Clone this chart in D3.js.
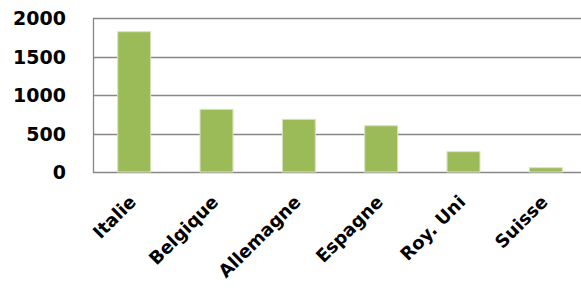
<!DOCTYPE html>
<html><head><meta charset="utf-8">
<script src="https://cdn.jsdelivr.net/npm/d3@7"></script>
<style>body{margin:0;background:#fff}svg{display:block}</style>
</head><body>
<svg id="c" width="581" height="290"></svg>
<script>
const categories = ["Italie","Belgique","Allemagne","Espagne","Roy. Uni","Suisse"];
const values = [1822, 814, 684, 601, 264, 56];
const yTicks = [0, 500, 1000, 1500, 2000];

const svg = d3.select("#c");
const mLeft = 93, mRight = 587, mTop = 18, mBottom = 172;
const font = "'DejaVu Sans', Verdana, sans-serif";

const x = d3.scaleBand().domain(categories).range([mLeft, mRight]).paddingInner(0.6).paddingOuter(0.3);
const y = d3.scaleLinear().domain([0, 2000]).range([mBottom, mTop]);

// gridlines
svg.append("g").selectAll("line").data(yTicks).join("line")
  .attr("x1", mLeft).attr("x2", mRight)
  .attr("y1", d => Math.round(y(d)) + 0.5).attr("y2", d => Math.round(y(d)) + 0.5)
  .attr("stroke", "#878787").attr("stroke-width", 1.3);
svg.append("line").attr("x1", mLeft + 0.5).attr("x2", mLeft + 0.5)
  .attr("y1", y(2000)).attr("y2", y(0) + 1)
  .attr("stroke", "#878787").attr("stroke-width", 1.3);

// bars
svg.append("g").selectAll("rect").data(values).join("rect")
  .attr("x", (d, i) => x(categories[i]))
  .attr("width", x.bandwidth())
  .attr("y", d => y(d))
  .attr("height", d => y(0) - y(d))
  .attr("fill", "#9BBB59")
  .attr("stroke", "#D7E4BD").attr("stroke-width", 1);

// y axis
const yAxis = d3.axisLeft(y).tickValues(yTicks).tickFormat(d3.format("d")).tickSize(0).tickPadding(0);
const ga = svg.append("g").attr("transform", `translate(66,0)`).call(yAxis);
ga.select(".domain").remove();
ga.selectAll("text").attr("font-family", font).attr("font-weight", "bold")
  .attr("font-size", 19).attr("fill", "#000").attr("dy", "0.36em");

// x axis labels
const xAxis = d3.axisBottom(x).tickSize(0).tickPadding(0);
const gx = svg.append("g").attr("transform", `translate(0,${mBottom})`).call(xAxis);
gx.select(".domain").remove();
gx.selectAll("text")
  .attr("font-family", font).attr("font-weight", "bold").attr("font-size", 18).attr("fill", "#000")
  .attr("text-anchor", "end").attr("dy", 0).attr("y", 0)
  .attr("transform", "translate(3,31) rotate(-45)");
</script>
</body></html>
